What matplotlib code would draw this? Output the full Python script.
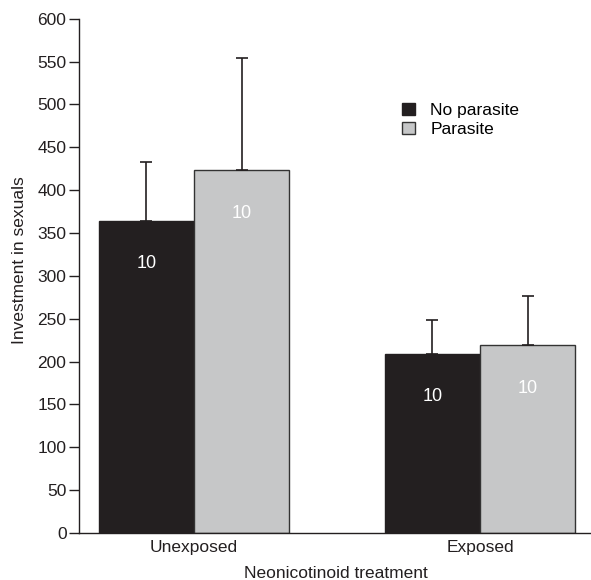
import numpy as np
import matplotlib
matplotlib.use('Agg')
import matplotlib.pyplot as plt
from matplotlib.patches import Patch

plt.rcParams['font.family'] = ['Liberation Sans', 'DejaVu Sans']

groups = ['Unexposed', 'Exposed']
series = ['No parasite', 'Parasite']
means_no = [364, 209]
means_par = [423, 219]
err_no = [69, 40]
err_par = [131, 57]
n_no = ['10', '10']
n_par = ['10', '10']

c_black = '#231f20'
c_grey = '#c6c7c8'

fig = plt.figure(figsize=(5.91, 5.8), dpi=100)
ax = fig.add_axes([79/591, 47/580, 512/591, 514.3/580])

x = np.arange(len(groups))
w = 0.333

ax.bar(x - w/2, means_no, w, color=c_black, edgecolor='#231f20', linewidth=1)
ax.bar(x + w/2, means_par, w, color=c_grey, edgecolor='#333333', linewidth=1)

ax.errorbar(x - w/2, means_no, yerr=[np.zeros(2), err_no], fmt='none',
            ecolor='#231f20', elinewidth=1.2, capsize=4, capthick=1.2)
ax.errorbar(x + w/2, means_par, yerr=[np.zeros(2), err_par], fmt='none',
            ecolor='#231f20', elinewidth=1.2, capsize=4, capthick=1.2)

for i in range(len(groups)):
    ax.text(x[i] - w/2, means_no[i] - 50, n_no[i], ha='center', va='center',
            color='white', fontsize=13)
    ax.text(x[i] + w/2, means_par[i] - 50, n_par[i], ha='center', va='center',
            color='white', fontsize=13)

ax.set_xlim(-0.402, 1.388)
ax.set_ylim(0, 600)
ax.set_yticks(np.arange(0, 601, 50))
ax.set_xticks(x)
ax.set_xticklabels(groups, fontsize=12.5, color='#231f20')
ax.tick_params(axis='y', direction='out', length=7, width=1, labelsize=12.5,
               colors='#231f20', pad=2)
ax.tick_params(axis='x', length=0, pad=5)
for s in ['top', 'right']:
    ax.spines[s].set_visible(False)
for s in ['left', 'bottom']:
    ax.spines[s].set_color('#231f20')
    ax.spines[s].set_linewidth(1)

ax.set_ylabel('Investment in sexuals', fontsize=12.5, color='#231f20')
ax.yaxis.set_label_coords(-0.102, 0.53)
fig.text(336/591, 1 - 573/580, 'Neonicotinoid treatment',
         ha='center', va='center', fontsize=12.5, color='#231f20')

handles = [Patch(facecolor=c_black, edgecolor='#231f20'),
           Patch(facecolor=c_grey, edgecolor='#333333')]
ax.legend(handles, series, loc='upper left', bbox_to_anchor=(0.6, 0.867),
          frameon=False, fontsize=12.5, handlelength=0.75, handleheight=0.75,
          handletextpad=0.9, labelspacing=0.2)

fig.savefig('out.png', dpi=100)
